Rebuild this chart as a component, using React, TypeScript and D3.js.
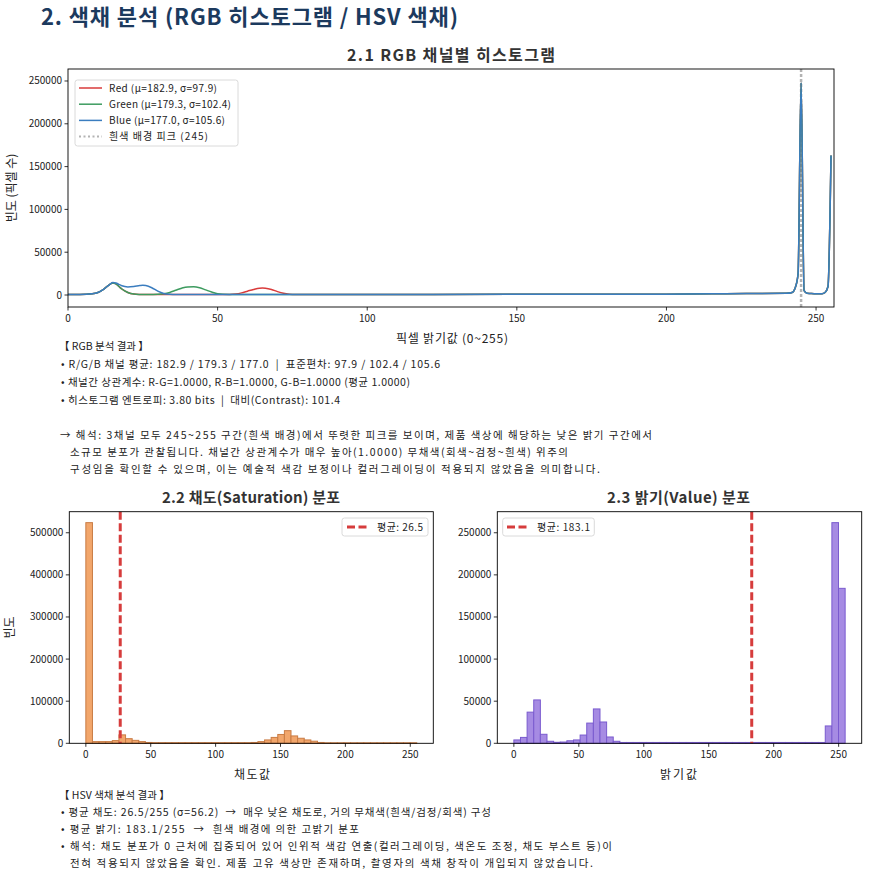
import React from 'react';
import * as d3 from 'd3';

const FONT = "'Noto Sans CJK KR', 'Noto Sans', sans-serif";

// ---------- DATA ----------
const mainTitle = '2. 색채 분석 (RGB 히스토그램 / HSV 색채)';
const rgbTitle = '2.1 RGB 채널별 히스토그램';
const satTitle = '2.2 채도(Saturation) 분포';
const valTitle = '2.3 밝기(Value) 분포';

const rgbX = [0, 4, 8, 10, 12, 14, 15, 16, 17, 18, 20, 22, 24, 25, 26, 28, 30, 32, 34, 36, 38, 40, 42, 44, 46, 48, 50, 54, 56, 58, 60, 62, 64, 65, 66, 68, 70, 72, 74, 76, 80, 100, 150, 200, 220, 240, 242, 243, 244, 245, 246, 247, 248, 250, 252, 253, 254, 255];
const redVals = [500, 600, 1500, 3000, 7000, 12500, 14000, 13000, 10000, 7000, 3000, 1200, 700, 600, 500, 500, 500, 500, 500, 500, 500, 500, 500, 500, 500, 500, 500, 600, 1200, 2500, 4500, 6500, 8000, 8200, 8000, 6500, 4000, 2000, 900, 500, 500, 500, 800, 1000, 1500, 2000, 3000, 8000, 25000, 248000, 5000, 2000, 1800, 1500, 1500, 3000, 10000, 163000];
const greenVals = [500, 600, 1500, 3000, 7000, 12500, 14000, 13000, 10000, 7000, 3000, 1200, 700, 600, 500, 600, 800, 1500, 3000, 5500, 8000, 9500, 9700, 8500, 6000, 3500, 1500, 600, 500, 500, 500, 500, 500, 500, 500, 500, 500, 500, 500, 500, 500, 500, 800, 1000, 1500, 2000, 3000, 8000, 25000, 248000, 5000, 2000, 1800, 1500, 1500, 3000, 10000, 163000];
const blueVals = [500, 600, 1500, 3000, 7000, 12500, 14500, 14000, 12500, 10800, 9500, 10000, 11000, 11300, 11000, 8500, 4500, 1800, 800, 500, 500, 500, 500, 500, 500, 500, 500, 500, 500, 500, 500, 500, 500, 500, 500, 500, 500, 500, 500, 500, 500, 500, 800, 1000, 1500, 2000, 3000, 8000, 25000, 248000, 5000, 2000, 1800, 1500, 1500, 3000, 10000, 163000];
const rgbLabels = ['Red (μ=182.9, σ=97.9)', 'Green (μ=179.3, σ=102.4)', 'Blue (μ=177.0, σ=105.6)', '흰색 배경 피크 (245)'];
const whitePeak = 245;
const rgbXTicks = [0, 50, 100, 150, 200, 250];
const rgbYTicks = [0, 50000, 100000, 150000, 200000, 250000];

const binWidth = 5.1;
const satCounts = [524000, 4000, 4000, 4000, 6400, 20000, 11000, 7000, 4000, 2000,
  1500, 1500, 1500, 1500, 1500, 1500, 1500, 1500, 1500, 1500, 1500, 1500, 1500, 1500, 1500,
  2000, 4000, 8000, 14000, 21000, 30000, 17500, 12000, 8000, 5000, 2000,
  1200, 1200, 1200, 1200, 1200, 1200, 1200, 1200, 1200, 1200, 1200, 1200, 1200, 1200];
const satMean = 26.5;
const valCounts = [4000, 7000, 37000, 51500, 10700, 2400, 1200, 1500, 3000, 4000, 9800, 24000, 40800, 25300, 7500, 2400,
  1000, 1000, 1000, 1000, 1000, 1000, 1000, 1000, 1000, 1000, 1000, 1000, 1000, 1000, 1000, 1000,
  1000, 1000, 1000, 1000, 1000, 1000, 1000, 1000, 1000, 1000, 1000, 1000, 1000, 1000, 1000,
  20600, 262000, 184000];
const valMean = 183.1;
const histXTicks = [0, 50, 100, 150, 200, 250];
const satYTicks = [0, 100000, 200000, 300000, 400000, 500000];
const valYTicks = [0, 50000, 100000, 150000, 200000, 250000];

const rgbNotes = [
  '【 RGB 분석 결과 】',
  '• R/G/B 채널 평균: 182.9 / 179.3 / 177.0  |  표준편차: 97.9 / 102.4 / 105.6',
  '• 채널간 상관계수: R-G=1.0000, R-B=1.0000, G-B=1.0000 (평균 1.0000)',
  '• 히스토그램 엔트로피: 3.80 bits  |  대비(Contrast): 101.4',
  '→ 해석: 3채널 모두 245~255 구간(흰색 배경)에서 뚜렷한 피크를 보이며, 제품 색상에 해당하는 낮은 밝기 구간에서',
  '소규모 분포가 관찰됩니다. 채널간 상관계수가 매우 높아(1.0000) 무채색(회색~검정~흰색) 위주의',
  '구성임을 확인할 수 있으며, 이는 예술적 색감 보정이나 컬러그레이딩이 적용되지 않았음을 의미합니다.',
];
const hsvNotes = [
  '【 HSV 색채 분석 결과 】',
  '• 평균 채도: 26.5/255 (σ=56.2)  →  매우 낮은 채도로, 거의 무채색(흰색/검정/회색) 구성',
  '• 평균 밝기: 183.1/255  →  흰색 배경에 의한 고밝기 분포',
  '• 해석: 채도 분포가 0 근처에 집중되어 있어 인위적 색감 연출(컬러그레이딩, 색온도 조정, 채도 부스트 등)이',
  '전혀 적용되지 않았음을 확인. 제품 고유 색상만 존재하며, 촬영자의 색채 창작이 개입되지 않았습니다.',
];

// ---------- LAYOUT ----------
const rgbNoteLayout = [
  { x: 59, y: 350, w: 0 },
  { x: 61, y: 368, w: 379 },
  { x: 61, y: 386, w: 349 },
  { x: 61, y: 404, w: 279 },
  { x: 60, y: 439, w: 592 },
  { x: 70, y: 456, w: 498 },
  { x: 70, y: 473, w: 530 },
];
const hsvNoteLayout = [
  { x: 59, y: 799, w: 0 },
  { x: 61, y: 816, w: 430 },
  { x: 61, y: 833, w: 298 },
  { x: 61, y: 850, w: 551 },
  { x: 70, y: 867, w: 523 },
];
const rgbLegendW = [108, 122, 116, 99];

// ---------- STYLE ----------
const RED = '#d93b3b';
const GREEN = '#3d9b5f';
const BLUE = '#3b7dbf';
const MEAN = '#d63c3c';
const TICK_FS = 10;

type Lin = d3.ScaleLinear<number, number>;

function Axes({ x, y, xTicks, yTicks, left, right, top, bottom }: { x: Lin; y: Lin; xTicks: number[]; yTicks: number[]; left: number; right: number; top: number; bottom: number }) {
  return (
    <g>
      <rect x={left} y={top} width={right - left} height={bottom - top} fill="none" stroke="#000" strokeWidth={0.9} />
      {xTicks.map((t) => (
        <g key={'x' + t}>
          <line x1={x(t)} x2={x(t)} y1={bottom} y2={bottom + 3.5} stroke="#000" strokeWidth={0.8} />
          <text x={x(t)} y={bottom + 15} fontSize={TICK_FS} textAnchor="middle" fill="#222" fontFamily={FONT}>{t}</text>
        </g>
      ))}
      {yTicks.map((t) => (
        <g key={'y' + t}>
          <line x1={left - 3.5} x2={left} y1={y(t)} y2={y(t)} stroke="#000" strokeWidth={0.8} />
          <text x={left - 6} y={y(t) + 3.5} fontSize={TICK_FS} textAnchor="end" fill="#222" fontFamily={FONT}>{t}</text>
        </g>
      ))}
    </g>
  );
}

function Hist({ counts, x, y, fill, stroke }: { counts: number[]; x: Lin; y: Lin; fill: string; stroke: string }) {
  return (
    <g>
      {counts.map((c, i) => {
        const x0 = x(i * binWidth);
        const x1 = x((i + 1) * binWidth);
        return <rect key={i} x={x0} y={y(c)} width={x1 - x0} height={y(0) - y(c)} fill={fill} stroke={stroke} strokeWidth={1} />;
      })}
    </g>
  );
}

function T({ w, children, ...rest }: any) {
  const extra = w ? { textLength: w, lengthAdjust: 'spacing' } : {};
  return <text {...rest} {...extra} style={{ whiteSpace: 'pre' }}>{children}</text>;
}

export default function App() {
  // RGB chart
  const rL = 68, rR = 834, rT = 69, rB = 307;
  const rx = d3.scaleLinear().domain([0, 256]).range([rL, rR]);
  const ry = d3.scaleLinear().domain([-14000, 264000]).range([rB, rT]);
  const line = (vals: number[]) =>
    d3.line<number>().x((_, i) => rx(rgbX[i])).y((v) => ry(v)).curve(d3.curveMonotoneX)(vals) || '';

  // Saturation chart
  const sL = 69.3, sR = 433.3, hT = 511.7, hB = 743.3;
  const sx = d3.scaleLinear().domain([-12.75, 267.75]).range([sL, sR]);
  const sy = d3.scaleLinear().domain([0, 550000]).range([hB, hT]);
  // Value chart
  const vL = 497.3, vR = 861.7;
  const vx = d3.scaleLinear().domain([-12.75, 267.75]).range([vL, vR]);
  const vy = d3.scaleLinear().domain([0, 275000]).range([hB, hT]);

  const legendColors = [RED, GREEN, BLUE];

  return (
    <svg width={889} height={882} style={{ position: 'absolute', left: 0, top: 0, background: '#fff' }} fontFamily={FONT}>
      <rect x={0} y={0} width={889} height={882} fill="#fff" />
      <T x={41} y={25} fontSize={22} fontWeight="bold" fill="#1c3a5e" w={417}>{mainTitle}</T>

      {/* RGB */}
      <T x={347} y={61} fontSize={16} fontWeight="bold" fill="#333" w={208}>{rgbTitle}</T>
      <line x1={rx(whitePeak)} x2={rx(whitePeak)} y1={rT} y2={rB} stroke="#b3b3b3" strokeWidth={2.5} strokeDasharray="3,2" />
      <path d={line(redVals)} fill="none" stroke={RED} strokeWidth={1.5} />
      <path d={line(greenVals)} fill="none" stroke={GREEN} strokeWidth={1.5} />
      <path d={line(blueVals)} fill="none" stroke={BLUE} strokeWidth={1.5} />
      <Axes x={rx} y={ry} xTicks={rgbXTicks} yTicks={rgbYTicks} left={rL} right={rR} top={rT} bottom={rB} />
      <g>
        <rect x={75} y={80} width={163} height={66} rx={2.5} fill="#fff" fillOpacity={0.85} stroke="#d0d0d0" strokeWidth={0.8} />
        {rgbLabels.map((lab, i) => {
          const yy = 88 + i * 16.2;
          return (
            <g key={lab}>
              {i < 3 ? (
                <line x1={79} x2={102} y1={yy} y2={yy} stroke={legendColors[i]} strokeWidth={1.5} />
              ) : (
                <line x1={79} x2={102} y1={yy} y2={yy} stroke="#b3b3b3" strokeWidth={2} strokeDasharray="2,2.5" />
              )}
              <T x={109} y={yy + 3.5} fontSize={10} fill="#222" w={rgbLegendW[i]}>{lab}</T>
            </g>
          );
        })}
      </g>
      <T x={396} y={343} fontSize={12} fill="#222" w={112}>픽셀 밝기값 (0~255)</T>
      <text transform={`translate(16, ${(rT + rB) / 2}) rotate(-90)`} fontSize={12} textAnchor="middle" fill="#222">빈도 (픽셀 수)</text>

      {/* RGB notes */}
      {rgbNotes.map((t, i) => (
        <T key={i} x={rgbNoteLayout[i].x} y={rgbNoteLayout[i].y} fontSize={10.5} fill="#222" w={rgbNoteLayout[i].w}>{t}</T>
      ))}

      {/* Saturation */}
      <T x={162} y={503} fontSize={15} fontWeight="bold" fill="#333" w={178}>{satTitle}</T>
      <Hist counts={satCounts} x={sx} y={sy} fill="#f2a66b" stroke="#c97c45" />
      <line x1={sx(satMean)} x2={sx(satMean)} y1={hT} y2={hB} stroke={MEAN} strokeWidth={3} strokeDasharray="8,3.5" />
      <Axes x={sx} y={sy} xTicks={histXTicks} yTicks={satYTicks} left={sL} right={sR} top={hT} bottom={hB} />
      <rect x={342} y={518} width={86} height={18} rx={2.5} fill="#fff" fillOpacity={0.85} stroke="#d0d0d0" strokeWidth={0.8} />
      <line x1={347} x2={368} y1={527} y2={527} stroke={MEAN} strokeWidth={3} strokeDasharray="8,3.5" />
      <T x={377} y={530.5} fontSize={10} fill="#222" w={46}>평균: 26.5</T>
      <T x={234} y={779} fontSize={12} fill="#222" w={36}>채도값</T>
      <text transform={`translate(14, ${(hT + hB) / 2}) rotate(-90)`} fontSize={12} textAnchor="middle" fill="#222">빈도</text>

      {/* Value */}
      <T x={607} y={503} fontSize={15} fontWeight="bold" fill="#333" w={143}>{valTitle}</T>
      <Hist counts={valCounts} x={vx} y={vy} fill="#a68be3" stroke="#7a5bcf" />
      <line x1={vx(valMean)} x2={vx(valMean)} y1={hT} y2={hB} stroke={MEAN} strokeWidth={3} strokeDasharray="8,3.5" />
      <Axes x={vx} y={vy} xTicks={histXTicks} yTicks={valYTicks} left={vL} right={vR} top={hT} bottom={hB} />
      <rect x={502.7} y={518} width={91.6} height={18} rx={2.5} fill="#fff" fillOpacity={0.85} stroke="#d0d0d0" strokeWidth={0.8} />
      <line x1={507} x2={528} y1={527} y2={527} stroke={MEAN} strokeWidth={3} strokeDasharray="8,3.5" />
      <T x={537} y={530.5} fontSize={10} fill="#222" w={53}>평균: 183.1</T>
      <T x={660} y={779} fontSize={12} fill="#222" w={37}>밝기값</T>

      {/* HSV notes */}
      {hsvNotes.map((t, i) => (
        <T key={i} x={hsvNoteLayout[i].x} y={hsvNoteLayout[i].y} fontSize={10.5} fill="#222" w={hsvNoteLayout[i].w}>{t}</T>
      ))}
    </svg>
  );
}
